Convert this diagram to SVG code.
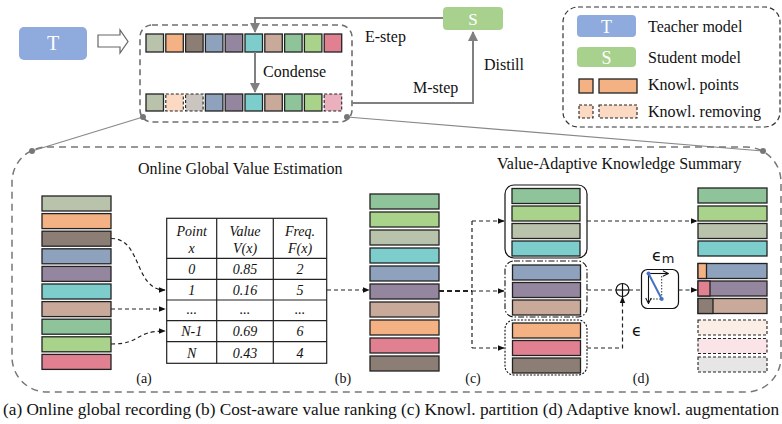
<svg xmlns="http://www.w3.org/2000/svg" width="782" height="424" viewBox="0 0 782 424">
<defs>
<style>
text{font-family:"Liberation Serif","Times New Roman",serif;fill:#111}
.t16{font-size:16px}
.t13{font-size:14px}
.it{font-style:italic;font-size:14px;text-anchor:middle}
.sq{stroke:#222;stroke-width:1.3}
.fd{stroke:#222;stroke-width:1.1;stroke-dasharray:3,2}
.gl{stroke:#808080;stroke-width:2;fill:none}
.dl{stroke:#222;stroke-width:1.2;fill:none;stroke-dasharray:4,3}
.dlb{stroke:#222;stroke-width:1.8;fill:none;stroke-dasharray:5,3}
.c1{fill:#b9c3ab}.c2{fill:#f4b183}.c3{fill:#8c7e74}.c4{fill:#8fa2bd}.c5{fill:#95869f}
.c6{fill:#7dcdcd}.c7{fill:#c9aa9a}.c8{fill:#8fc49b}.c9{fill:#a9d38b}.c10{fill:#e08090}
.wt{fill:#fff;text-anchor:middle}
.eps{font-family:"DejaVu Sans","Noto Sans",sans-serif;font-size:16px}
</style>
<marker id="ga" viewBox="0 0 10 10" refX="9" refY="5" markerWidth="5" markerHeight="5" orient="auto"><path d="M0,0L10,5L0,10z" fill="#808080"/></marker>
<marker id="ba" viewBox="0 0 10 10" refX="9" refY="5" markerWidth="7" markerHeight="7" markerUnits="userSpaceOnUse" orient="auto"><path d="M0,1L10,5L0,9z" fill="#111"/></marker>
<marker id="oa" viewBox="0 0 10 10" refX="9" refY="5" markerWidth="7" markerHeight="7" markerUnits="userSpaceOnUse" orient="auto"><path d="M1,1L9,5L1,9" fill="none" stroke="#111" stroke-width="1.5"/></marker>
</defs>
<rect width="782" height="424" fill="#fff"/>

<g id="teacher">
<rect x="19" y="27" width="68" height="33" rx="5" fill="#8faadc"/>
<text x="53" y="50" class="wt" style="font-size:20px">T</text>
</g>
<g id="hollow-arrow">
<polygon points="98,35 120,35 120,30 128,41.5 120,53 120,47 98,47" fill="#fff" stroke="#666" stroke-width="1.2"/>
</g>

<g id="buffer">
<rect x="140" y="25" width="212" height="97" rx="12" fill="none" stroke="#6f6f6f" stroke-width="1.6" stroke-dasharray="6,4"/>
<g id="row-top">
<rect class="sq c1" x="146" y="34" width="17.5" height="18"/>
<rect class="sq c2" x="165.8" y="34" width="17.5" height="18"/>
<rect class="sq c3" x="185.6" y="34" width="17.5" height="18"/>
<rect class="sq c4" x="205.4" y="34" width="17.5" height="18"/>
<rect class="sq c5" x="225.2" y="34" width="17.5" height="18"/>
<rect class="sq c6" x="245" y="34" width="17.5" height="18"/>
<rect class="sq c7" x="264.8" y="34" width="17.5" height="18"/>
<rect class="sq c8" x="284.6" y="34" width="17.5" height="18"/>
<rect class="sq c9" x="304.4" y="34" width="17.5" height="18"/>
<rect class="sq c10" x="324.2" y="34" width="17.5" height="18"/>
</g>
<g id="row-bottom">
<rect class="sq c1" x="146" y="94" width="17.5" height="17"/>
<rect class="fd" fill="#fbd9c2" x="165.8" y="94" width="17.5" height="17"/>
<rect class="fd" fill="#cbc5bf" x="185.6" y="94" width="17.5" height="17"/>
<rect class="sq c4" x="205.4" y="94" width="17.5" height="17"/>
<rect class="sq c5" x="225.2" y="94" width="17.5" height="17"/>
<rect class="sq c6" x="245" y="94" width="17.5" height="17"/>
<rect class="sq c7" x="264.8" y="94" width="17.5" height="17"/>
<rect class="sq c8" x="284.6" y="94" width="17.5" height="17"/>
<rect class="sq c9" x="304.4" y="94" width="17.5" height="17"/>
<rect class="fd" fill="#ebb0bd" x="324.2" y="94" width="17.5" height="17"/>
</g>
</g>

<g id="student">
<rect x="443" y="7" width="60" height="23" rx="4" fill="#a9d18e"/>
<text x="473" y="25" class="wt" style="font-size:17px">S</text>
</g>

<g id="legend">
<rect x="563" y="7" width="217" height="120" rx="15" fill="none" stroke="#333" stroke-width="1.2" stroke-dasharray="5,3"/>
<rect x="577" y="15" width="59" height="22" rx="4" fill="#8faadc"/>
<text x="606.5" y="33" class="wt" style="font-size:18px">T</text>
<text x="648" y="32" class="t16">Teacher model</text>
<rect x="577" y="47" width="59" height="20" rx="4" fill="#a9d18e"/>
<text x="606.5" y="64" class="wt" style="font-size:18px">S</text>
<text x="648" y="63" class="t16">Student model</text>
<rect class="sq c2" x="579" y="79" width="14" height="14"/>
<rect class="sq c2" x="599" y="79" width="38" height="14"/>
<text x="648" y="90" class="t16">Knowl. points</text>
<rect class="fd" fill="#fbd9c2" x="579" y="105" width="14" height="13"/>
<rect class="fd" fill="#fbd9c2" x="599" y="105" width="38" height="13"/>
<text x="648" y="117" class="t16">Knowl. removing</text>
</g>

<g id="top-connectors">
<path class="gl" d="M443,18H255V32" marker-end="url(#ga)"/>
<path class="gl" d="M255,52V92" marker-end="url(#ga)"/>
<path class="gl" d="M352,103H473V32" marker-end="url(#ga)"/>
<text x="365" y="42" class="t16">E-step</text>
<text x="263" y="77" class="t16">Condense</text>
<text x="413" y="93" class="t16">M-step</text>
<text x="484" y="70" class="t16">Distill</text>
<line x1="143" y1="117" x2="32" y2="151" stroke="#888" stroke-width="1.2"/>
<line x1="347" y1="117" x2="763" y2="151" stroke="#888" stroke-width="1.2"/>
<circle cx="143" cy="117" r="3" fill="#777"/>
<circle cx="347" cy="117" r="3" fill="#777"/>
<circle cx="32" cy="151" r="3" fill="#777"/>
<circle cx="763" cy="151" r="3" fill="#777"/>
</g>

<rect x="12" y="147" width="769" height="245" rx="35" fill="none" stroke="#777" stroke-width="1.5" stroke-dasharray="7,5"/>
<text x="138" y="174" class="t16">Online Global Value Estimation</text>
<text x="497" y="169" class="t16">Value-Adaptive Knowledge Summary</text>

<g id="col-a">
<rect class="sq c1" x="42" y="196" width="69" height="15"/>
<rect class="sq c2" x="42" y="213.6" width="69" height="15"/>
<rect class="sq c3" x="42" y="231.2" width="69" height="15"/>
<rect class="sq c4" x="42" y="248.8" width="69" height="15"/>
<rect class="sq c5" x="42" y="266.4" width="69" height="15"/>
<rect class="sq c6" x="42" y="284" width="69" height="15"/>
<rect class="sq c7" x="42" y="301.6" width="69" height="15"/>
<rect class="sq c8" x="42" y="319.2" width="69" height="15"/>
<rect class="sq c9" x="42" y="336.8" width="69" height="15"/>
<rect class="sq c10" x="42" y="354.4" width="69" height="15"/>
<text x="144" y="383" class="t13" text-anchor="middle">(a)</text>
</g>

<g id="table">
<g stroke="#222" stroke-width="1.2" fill="none">
<rect x="166.7" y="218.3" width="160" height="145"/>
<line x1="216.7" y1="218.3" x2="216.7" y2="363.3"/>
<line x1="273.3" y1="218.3" x2="273.3" y2="363.3"/>
<line x1="166.7" y1="258.3" x2="326.7" y2="258.3"/>
<line x1="166.7" y1="279.3" x2="326.7" y2="279.3"/>
<line x1="166.7" y1="300" x2="326.7" y2="300"/>
<line x1="166.7" y1="320.7" x2="326.7" y2="320.7"/>
<line x1="166.7" y1="341.7" x2="326.7" y2="341.7"/>
</g>
<text class="it" x="191.7" y="236">Point</text>
<text class="it" x="191.7" y="253">x</text>
<text class="it" x="245" y="236">Value</text>
<text class="it" x="245" y="253">V(x)</text>
<text class="it" x="300" y="236">Freq.</text>
<text class="it" x="300" y="253">F(x)</text>
<text class="it" x="191.7" y="274">0</text>
<text class="it" x="245" y="274">0.85</text>
<text class="it" x="300" y="274">2</text>
<text class="it" x="191.7" y="294.8">1</text>
<text class="it" x="245" y="294.8">0.16</text>
<text class="it" x="300" y="294.8">5</text>
<text class="it" x="191.7" y="314">...</text>
<text class="it" x="245" y="314">...</text>
<text class="it" x="300" y="314">...</text>
<text class="it" x="191.7" y="336">N-1</text>
<text class="it" x="245" y="336">0.69</text>
<text class="it" x="300" y="336">6</text>
<text class="it" x="191.7" y="357.5">N</text>
<text class="it" x="245" y="357.5">0.43</text>
<text class="it" x="300" y="357.5">4</text>
<text x="343" y="383" class="t13" text-anchor="middle">(b)</text>
</g>

<g id="col-c">
<rect class="sq c8" x="370" y="194" width="69" height="15"/>
<rect class="sq c9" x="370" y="212" width="69" height="15"/>
<rect class="sq c1" x="370" y="230" width="69" height="15"/>
<rect class="sq c6" x="370" y="248" width="69" height="15"/>
<rect class="sq c4" x="370" y="266" width="69" height="15"/>
<rect class="sq c5" x="370" y="284" width="69" height="15"/>
<rect class="sq c7" x="370" y="302" width="69" height="15"/>
<rect class="sq c2" x="370" y="320" width="69" height="15"/>
<rect class="sq c10" x="370" y="338" width="69" height="15"/>
<rect class="sq c3" x="370" y="356" width="69" height="15"/>
<text x="473" y="383" class="t13" text-anchor="middle">(c)</text>
</g>

<g id="group-high">
<rect x="505" y="185" width="82" height="73" rx="9" fill="none" stroke="#111" stroke-width="1.2"/>
<rect class="sq c8" x="512" y="188.5" width="68" height="15"/>
<rect class="sq c9" x="512" y="206" width="68" height="15"/>
<rect class="sq c1" x="512" y="223.5" width="68" height="15"/>
<rect class="sq c6" x="512" y="241" width="68" height="15"/>
</g>
<g id="group-mid">
<rect x="505" y="261" width="82" height="56" rx="9" fill="none" stroke="#111" stroke-width="1.1" stroke-dasharray="6,2,1.5,2"/>
<rect class="sq c4" x="512.5" y="265" width="68" height="15"/>
<rect class="sq c5" x="512.5" y="282.5" width="68" height="15"/>
<rect class="sq c7" x="512.5" y="300" width="68" height="15"/>
</g>
<g id="group-low">
<rect x="505" y="320" width="82" height="55" rx="9" fill="none" stroke="#111" stroke-width="1.1" stroke-dasharray="2,1.5"/>
<rect class="sq c2" x="512.5" y="323" width="68" height="15"/>
<rect class="sq c10" x="512.5" y="340.5" width="68" height="15"/>
<rect class="sq c3" x="512.5" y="358" width="68" height="15"/>
</g>

<g id="plus">
<circle cx="622.5" cy="290" r="6.5" fill="#fff" stroke="#111" stroke-width="1.2"/>
<line x1="616" y1="290" x2="629" y2="290" stroke="#111" stroke-width="1.2"/>
<line x1="622.5" y1="283.5" x2="622.5" y2="296.5" stroke="#111" stroke-width="1.2"/>
</g>
<g id="rotation">
<rect x="641.5" y="269.5" width="37" height="39" rx="6" fill="#fff" stroke="#111" stroke-width="1.2"/>
<path d="M661.7,276V299H648.5" fill="none" stroke="#333" stroke-width="1" stroke-dasharray="1.5,1.5"/>
<line x1="648.5" y1="273.5" x2="668.5" y2="273.5" stroke="#111" stroke-width="1.1" marker-end="url(#oa)"/>
<line x1="648.5" y1="273.5" x2="648.5" y2="303.5" stroke="#111" stroke-width="1.1" marker-end="url(#oa)"/>
<line x1="648.5" y1="273.5" x2="661.7" y2="299" stroke="#4472c4" stroke-width="2"/>
<circle cx="648.5" cy="273.5" r="2" fill="#4472c4"/>
<circle cx="661.7" cy="299" r="2" fill="#4472c4"/>
<text x="652" y="261" class="eps">ϵ<tspan style="font-size:13px" dy="2">m</tspan></text>
</g>
<text x="632" y="336" class="eps">ϵ</text>

<g id="col-out">
<rect class="sq c8" x="698" y="188" width="69" height="15"/>
<rect class="sq c9" x="698" y="206" width="69" height="15"/>
<rect class="sq c1" x="698" y="223.5" width="69" height="15"/>
<rect class="sq c6" x="698" y="241" width="69" height="15"/>
<rect class="sq c4" x="698" y="263.5" width="69" height="15"/>
<rect class="sq c2" x="698" y="263.5" width="8.5" height="15"/>
<rect class="sq c5" x="698" y="281" width="69" height="15"/>
<rect class="sq c10" x="698" y="281" width="12" height="15"/>
<rect class="sq c7" x="698" y="298.5" width="69" height="15"/>
<rect class="sq c3" x="698" y="298.5" width="15" height="15"/>
<rect class="fd" fill="#fbeee6" x="698" y="320" width="69" height="15"/>
<rect class="fd" fill="#fbe4e8" x="698" y="338.5" width="69" height="15"/>
<rect class="fd" fill="#e6e6e6" x="698" y="357" width="69" height="15"/>
<text x="641" y="383" class="t13" text-anchor="middle">(d)</text>
</g>

<g id="connectors">
<path class="dl" d="M111,238.5C142,238 134,290 165,290" marker-end="url(#ba)"/>
<path class="dl" d="M111,309H165" marker-end="url(#ba)"/>
<path class="dl" d="M111,344C142,344 134,331 165,331" marker-end="url(#ba)"/>
<path class="dl" d="M327,290H369" marker-end="url(#ba)"/>
<path class="dlb" d="M439,291H472"/>
<path class="dl" d="M472,221V348"/>
<path class="dl" d="M472,221H504" marker-end="url(#ba)"/>
<path class="dl" d="M472,291H504" marker-end="url(#ba)"/>
<path class="dl" d="M472,348H504" marker-end="url(#ba)"/>
<path class="dl" d="M587,221H697" marker-end="url(#ba)"/>
<path class="dl" d="M587,290H616"/>
<path class="dl" d="M629,290H641"/>
<path class="dl" d="M678.5,290H697" marker-end="url(#ba)"/>
<path class="dl" d="M587,348H622.5V297" marker-end="url(#ba)"/>
</g>

<text x="3" y="415" class="t16" textLength="776" lengthAdjust="spacingAndGlyphs">(a) Online global recording  (b) Cost-aware value ranking  (c) Knowl. partition  (d) Adaptive knowl. augmentation</text>
</svg>
